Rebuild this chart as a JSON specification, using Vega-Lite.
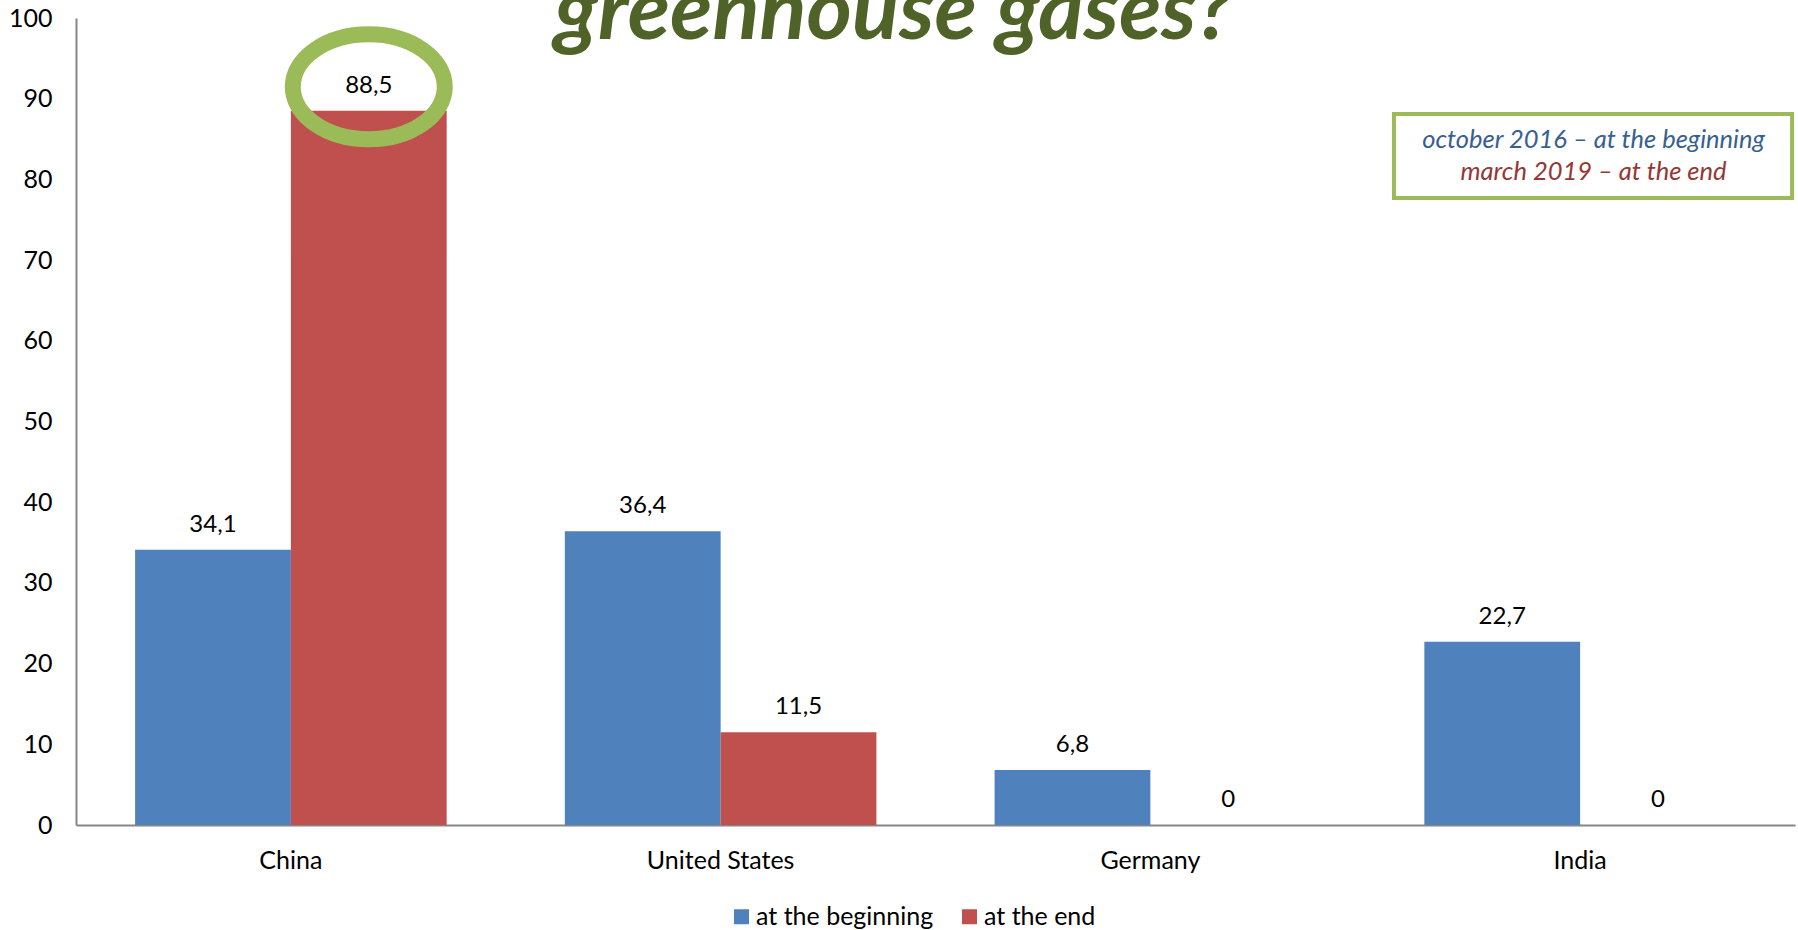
{
  "$schema": "https://vega.github.io/schema/vega-lite/v6.json",
  "autosize": "none",
  "width": 1719,
  "height": 807,
  "padding": {"left": 76, "top": 18, "right": 3, "bottom": 105},
  "background": "white",
  "title": {
    "text": "greenhouse gases?",
    "font": "Lato",
    "fontSize": 87,
    "fontStyle": "italic",
    "fontWeight": "bold",
    "color": "#4F6228",
    "anchor": "middle",
    "frame": "group",
    "baseline": "alphabetic",
    "offset": -124,
    "dx": -42
  },
  "config": {
    "view": {"stroke": null},
    "locale": {"number": {"decimal": ",", "thousands": " ", "grouping": [3], "currency": ["", ""]}},
    "font": "Lato"
  },
  "data": {
    "values": [
      {"country": "China", "period": "at the beginning", "value": 34.1},
      {"country": "China", "period": "at the end", "value": 88.5},
      {"country": "United States", "period": "at the beginning", "value": 36.4},
      {"country": "United States", "period": "at the end", "value": 11.5},
      {"country": "Germany", "period": "at the beginning", "value": 6.8},
      {"country": "Germany", "period": "at the end", "value": 0},
      {"country": "India", "period": "at the beginning", "value": 22.7},
      {"country": "India", "period": "at the end", "value": 0}
    ]
  },
  "resolve": {"scale": {"x": "independent"}, "axis": {"x": "independent", "y": "independent"}},
  "layer": [
    {
      "encoding": {
        "x": {
          "field": "country", "type": "nominal", "sort": null,
          "scale": {"paddingInner": 0.275, "paddingOuter": 0.1375},
          "axis": {
            "title": null, "ticks": false, "labelAngle": 0,
            "labelFont": "Lato", "labelFontSize": 25, "labelColor": "#000000",
            "labelPadding": 23, "domainColor": "#868686", "domainWidth": 2
          }
        },
        "xOffset": {"field": "period", "type": "nominal", "scale": {"paddingInner": 0, "paddingOuter": 0}},
        "y": {
          "field": "value", "type": "quantitative",
          "scale": {"domain": [0, 100], "nice": false},
          "axis": {
            "title": null, "ticks": false, "grid": false, "values": [0,10,20,30,40,50,60,70,80,90,100],
            "labelFont": "Lato", "labelFontSize": 25, "labelColor": "#000000",
            "labelPadding": 24, "domainColor": "#868686", "domainWidth": 2
          }
        }
      },
      "layer": [
        {
          "mark": {"type": "bar"},
          "encoding": {
            "color": {
              "field": "period", "type": "nominal",
              "scale": {"domain": ["at the beginning", "at the end"], "range": ["#4F81BD", "#C0504D"]},
              "legend": {
                "title": null, "orient": "none", "legendX": 653, "legendY": 886, "direction": "horizontal",
                "symbolType": "square", "symbolSize": 225, "symbolStrokeWidth": 0,
                "labelFont": "Lato", "labelFontSize": 25, "labelColor": "#000000", "labelLimit": 400,
                "labelOffset": 2, "columnPadding": 23
              }
            }
          }
        },
        {
          "mark": {"type": "text", "baseline": "alphabetic", "dy": -18, "font": "Lato", "fontSize": 24, "color": "#000000"},
          "encoding": {"text": {"field": "value", "type": "quantitative", "format": "~g"}}
        },
        {
          "transform": [{"filter": "datum.country === 'China' && datum.period === 'at the end'"}],
          "mark": {
            "type": "point", "filled": false, "stroke": "#9BBB59", "strokeWidth": 16, "opacity": 1,
            "shape": "M -1 0 C -1 -0.381 -0.5523 -0.69 0 -0.69 C 0.5523 -0.69 1 -0.381 1 0 C 1 0.381 0.5523 0.69 0 0.69 C -0.5523 0.69 -1 0.381 -1 0 Z",
            "size": 23104, "yOffset": -24, "xOffset": 6
          }
        }
      ]
    },
    {
      "data": {"values": [{}]},
      "layer": [
        {
          "mark": {"type": "rect", "fill": "white", "stroke": "#9BBB59", "strokeWidth": 4},
          "encoding": {
            "x": {"datum": 0.7667, "type": "quantitative", "scale": {"domain": [0, 1], "nice": false, "zero": false}, "axis": null},
            "x2": {"datum": 0.9983},
            "y": {"datum": 88.1, "type": "quantitative", "axis": null},
            "y2": {"datum": 77.7}
          }
        },
        {
          "mark": {"type": "text", "text": "october 2016 – at the beginning", "font": "Lato", "fontSize": 25.5, "fontStyle": "italic", "color": "#376092", "baseline": "middle", "align": "center"},
          "encoding": {
            "x": {"datum": 0.8828, "type": "quantitative", "axis": null},
            "y": {"datum": 84.9, "type": "quantitative", "axis": null}
          }
        },
        {
          "mark": {"type": "text", "text": "march 2019 – at the end", "font": "Lato", "fontSize": 25.5, "fontStyle": "italic", "color": "#953735", "baseline": "middle", "align": "center"},
          "encoding": {
            "x": {"datum": 0.8828, "type": "quantitative", "axis": null},
            "y": {"datum": 80.9, "type": "quantitative", "axis": null}
          }
        }
      ]
    }
  ]
}
